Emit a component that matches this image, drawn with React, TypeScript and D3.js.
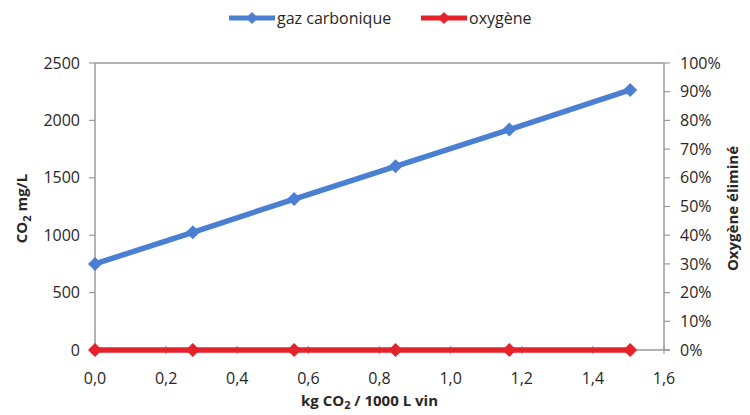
import React from "react";
import * as d3 from "d3";

const xValues = [0.0, 0.275, 0.56, 0.845, 1.165, 1.505];
const co2Values = [750, 1025, 1315, 1600, 1920, 2265];
const oxygenValues = [0, 0, 0, 0, 0, 0];
const xTicks = [0, 0.2, 0.4, 0.6, 0.8, 1.0, 1.2, 1.4, 1.6];
const leftTicks = [0, 500, 1000, 1500, 2000, 2500];
const rightTicks = [0, 0.1, 0.2, 0.3, 0.4, 0.5, 0.6, 0.7, 0.8, 0.9, 1.0];

const BLUE = "#4a7fd1";
const RED = "#e5212a";
const AXIS = "#9a9a9a";
const TEXT = "#2a2624";
const FONT = "'Open Sans', 'Noto Sans', sans-serif";
const FS = 16;

export default function App() {
  const W = 750, H = 415;
  const left = 95, right = 664, top = 63, bottom = 350;
  const x = d3.scaleLinear().domain([0, 1.6]).range([left, right]);
  const yL = d3.scaleLinear().domain([0, 2500]).range([bottom, top]);
  const yR = d3.scaleLinear().domain([0, 1]).range([bottom, top]);
  const fmtX = (v: number) => v.toFixed(1).replace(".", ",");
  const fmtP = (v: number) => Math.round(v * 100) + "%";

  const lineL = d3.line<number>().x((_, i) => x(xValues[i])).y((d) => yL(d));
  const lineR = d3.line<number>().x((_, i) => x(xValues[i])).y((d) => yR(d));
  const diamond = (cx: number, cy: number, r = 7) =>
    `M${cx},${cy - r}L${cx + r},${cy}L${cx},${cy + r}L${cx - r},${cy}Z`;

  return (
    <svg width={W} height={H} style={{ position: "absolute", left: 0, top: 0, background: "#fff" }}>
      <rect width={W} height={H} fill="#fff" />
      <line x1={left} x2={right} y1={top} y2={top} stroke={AXIS} strokeWidth={1.5} />
      <line x1={left} x2={left} y1={top} y2={bottom} stroke={AXIS} strokeWidth={1.5} />
      {leftTicks.map((t) => (
        <g key={"l" + t}>
          <line x1={left - 6} x2={left} y1={yL(t)} y2={yL(t)} stroke={AXIS} strokeWidth={1.2} />
          <text x={left - 15} y={yL(t)} dy="0.35em" textAnchor="end" fontSize={FS} fontFamily={FONT} fill={TEXT}>
            {t}
          </text>
        </g>
      ))}
      <line x1={right} x2={right} y1={top} y2={bottom} stroke={AXIS} strokeWidth={1.5} />
      {rightTicks.map((t) => (
        <g key={"r" + t}>
          <line x1={right} x2={right + 6} y1={yR(t)} y2={yR(t)} stroke={AXIS} strokeWidth={1.2} />
          <text x={right + 16} y={yR(t)} dy="0.35em" textAnchor="start" fontSize={FS} fontFamily={FONT} fill={TEXT}>
            {fmtP(t)}
          </text>
        </g>
      ))}
      <line x1={left} x2={right + 6} y1={bottom} y2={bottom} stroke={AXIS} strokeWidth={1.5} />
      {xTicks.map((t) => (
        <g key={"x" + t}>
          <line x1={x(t)} x2={x(t)} y1={bottom - 4} y2={bottom + 4} stroke={AXIS} strokeWidth={1.2} />
          <text x={x(t)} y={bottom + 34} textAnchor="middle" fontSize={FS} fontFamily={FONT} fill={TEXT}>
            {fmtX(t)}
          </text>
        </g>
      ))}
      <path d={lineL(co2Values) || ""} fill="none" stroke={BLUE} strokeWidth={5.5} strokeLinejoin="round" />
      {co2Values.map((v, i) => (
        <path key={"b" + i} d={diamond(x(xValues[i]), yL(v))} fill={BLUE} />
      ))}
      <path d={lineR(oxygenValues) || ""} fill="none" stroke={RED} strokeWidth={5.5} strokeLinejoin="round" />
      {oxygenValues.map((v, i) => (
        <path key={"o" + i} d={diamond(x(xValues[i]), yR(v))} fill={RED} />
      ))}
      <text transform={`translate(27,${(top + bottom) / 2 + 2}) rotate(-90)`} textAnchor="middle" fontSize={15} fontWeight="bold" fontFamily={FONT} fill={TEXT}>
        CO<tspan fontSize={11} dy={4}>2</tspan><tspan dy={-4}> mg/L</tspan>
      </text>
      <text transform={`translate(738,${(top + bottom) / 2 + 2}) rotate(-90)`} textAnchor="middle" fontSize={15} fontWeight="bold" fontFamily={FONT} fill={TEXT}>
        Oxygène éliminé
      </text>
      <text x={(left + right) / 2 - 10} y={406} textAnchor="middle" fontSize={15} fontWeight="bold" fontFamily={FONT} fill={TEXT}>
        kg CO<tspan fontSize={11} dy={3}>2</tspan><tspan dy={-3}> / 1000 L vin</tspan>
      </text>
      <g>
        <line x1={229} x2={275} y1={18} y2={18} stroke={BLUE} strokeWidth={5} />
        <path d={diamond(252, 18, 6)} fill={BLUE} />
        <text x={277} y={18} dy="0.35em" fontSize={FS} fontFamily={FONT} fill={TEXT}>gaz carbonique</text>
        <line x1={421} x2={467} y1={18} y2={18} stroke={RED} strokeWidth={5} />
        <path d={diamond(444, 18, 6)} fill={RED} />
        <text x={469} y={18} dy="0.35em" fontSize={FS} fontFamily={FONT} fill={TEXT}>oxygène</text>
      </g>
    </svg>
  );
}
